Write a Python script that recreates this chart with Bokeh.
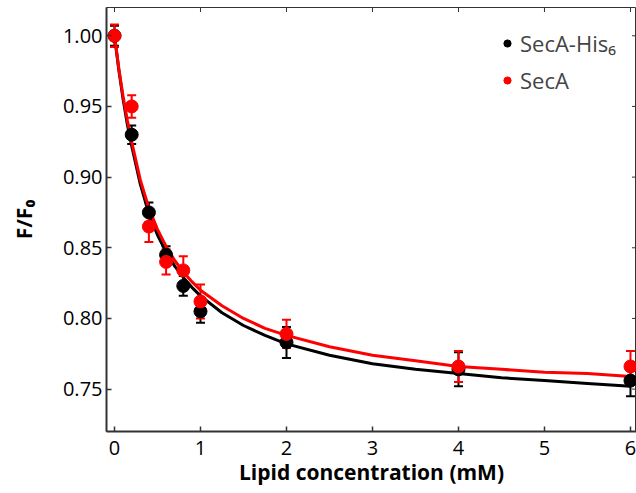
from bokeh.plotting import figure
from bokeh.models import (ColumnDataSource, Whisker, TeeHead, Legend, LegendItem,
                          Range1d, FixedTicker, NumeralTickFormatter)
from bokeh.embed import file_html
from bokeh.resources import INLINE
import math

# ---- data ----
lipid_mM = [0, 0.2, 0.4, 0.6, 0.8, 1.0, 2.0, 4.0, 6.0]

his6_mean = [1.000, 0.930, 0.875, 0.845, 0.823, 0.805, 0.783, 0.764, 0.756]
his6_err = [0.007, 0.0065, 0.007, 0.006, 0.007, 0.008, 0.011, 0.012, 0.011]

seca_mean = [1.000, 0.950, 0.865, 0.840, 0.834, 0.812, 0.789, 0.766, 0.766]
seca_err = [0.008, 0.008, 0.011, 0.009, 0.010, 0.012, 0.010, 0.011, 0.011]

# fitted curves
fit_x = [0, 0.05, 0.1, 0.15, 0.2, 0.3, 0.4, 0.5, 0.6, 0.7, 0.8, 0.9, 1.0,
         1.25, 1.5, 1.75, 2.0, 2.5, 3.0, 3.5, 4.0, 4.5, 5.0, 5.5, 6.0]
his6_fit = [1.000, 0.976, 0.955, 0.937, 0.922, 0.895, 0.874, 0.859, 0.847, 0.837,
            0.829, 0.822, 0.816, 0.804, 0.795, 0.788, 0.782, 0.774, 0.768, 0.764,
            0.761, 0.758, 0.756, 0.754, 0.752]
seca_fit = [1.000, 0.977, 0.957, 0.940, 0.925, 0.898, 0.878, 0.863, 0.851, 0.841,
            0.833, 0.826, 0.820, 0.809, 0.800, 0.793, 0.788, 0.780, 0.774, 0.770,
            0.766, 0.764, 0.762, 0.761, 0.759]

x_ticks = [0, 1, 2, 3, 4, 5, 6]
y_ticks = [0.75, 0.80, 0.85, 0.90, 0.95, 1.00]
series_names = ["SecA-His\u2086", "SecA"]
series_colors = ["black", "#ff0000"]

FONT = "Open Sans"
AXIS_COLOR = "#333333"

X0, X1 = -0.093, 6.07
Y0, Y1 = 0.72, 1.02

p = figure(width=636, height=488, output_backend="svg", toolbar_location=None,
           x_range=Range1d(X0, X1), y_range=Range1d(Y0, Y1),
           min_border_left=106, min_border_right=0, min_border_top=7,
           min_border_bottom=45)
p.grid.visible = False
p.outline_line_color = AXIS_COLOR
p.outline_line_width = 1
p.background_fill_color = "white"

# inward tick marks on the top and right edges of the box
p.scatter(x_ticks, [Y1] * len(x_ticks), marker="dash", size=9, angle=math.pi / 2,
          line_color=AXIS_COLOR, line_width=1)
p.scatter([X1] * len(y_ticks), y_ticks, marker="dash", size=9,
          line_color=AXIS_COLOR, line_width=1)

# curves
p.line(fit_x, his6_fit, line_color=series_colors[0], line_width=3)
p.line(fit_x, seca_fit, line_color=series_colors[1], line_width=3)

renderers = []
for means, errs, col in [(his6_mean, his6_err, series_colors[0]),
                         (seca_mean, seca_err, series_colors[1])]:
    src = ColumnDataSource(dict(
        x=lipid_mM, y=means,
        lo=[m - e for m, e in zip(means, errs)],
        hi=[m + e for m, e in zip(means, errs)]))
    w = Whisker(source=src, base="x", upper="hi", lower="lo",
                line_color=col, line_width=2,
                upper_head=TeeHead(size=9, line_color=col, line_width=2),
                lower_head=TeeHead(size=9, line_color=col, line_width=2))
    p.add_layout(w)
    r = p.scatter("x", "y", source=src, size=13, fill_color=col, line_color=col)
    renderers.append(r)

# axes styling
for ax in (p.xaxis[0], p.yaxis[0]):
    ax.axis_line_color = AXIS_COLOR
    ax.axis_line_width = 2
    ax.major_tick_line_color = AXIS_COLOR
    ax.major_tick_line_width = 1.5
    ax.major_tick_in = 5
    ax.major_tick_out = 0
    ax.minor_tick_line_color = None
    ax.major_label_text_font = FONT
    ax.major_label_text_font_size = "20px"
    ax.major_label_text_color = "black"
    ax.axis_label_text_font = FONT
    ax.axis_label_text_font_style = "bold"
    ax.axis_label_text_font_size = "21px"
    ax.axis_label_text_color = "black"

p.xaxis[0].ticker = FixedTicker(ticks=x_ticks)
p.yaxis[0].ticker = FixedTicker(ticks=y_ticks)
p.yaxis[0].formatter = NumeralTickFormatter(format="0.00")
p.xaxis[0].major_label_standoff = 9
p.yaxis[0].major_label_standoff = 4
p.xaxis[0].axis_label = "Lipid concentration (mM)"
p.yaxis[0].axis_label = "F/F\u2080"
p.xaxis[0].axis_label_standoff = 0
p.yaxis[0].axis_label_standoff = 22

legend = Legend(items=[LegendItem(label=series_names[0], renderers=[renderers[0]]),
                       LegendItem(label=series_names[1], renderers=[renderers[1]])],
                location=(392, 336), glyph_width=18, glyph_height=18,
                label_standoff=4, spacing=7, padding=0, margin=0,
                label_text_font=FONT, label_text_font_size="22px",
                label_height=24, border_line_color=None, background_fill_alpha=0)
p.add_layout(legend, "center")

open("out.html", "w").write(file_html(p, INLINE))
